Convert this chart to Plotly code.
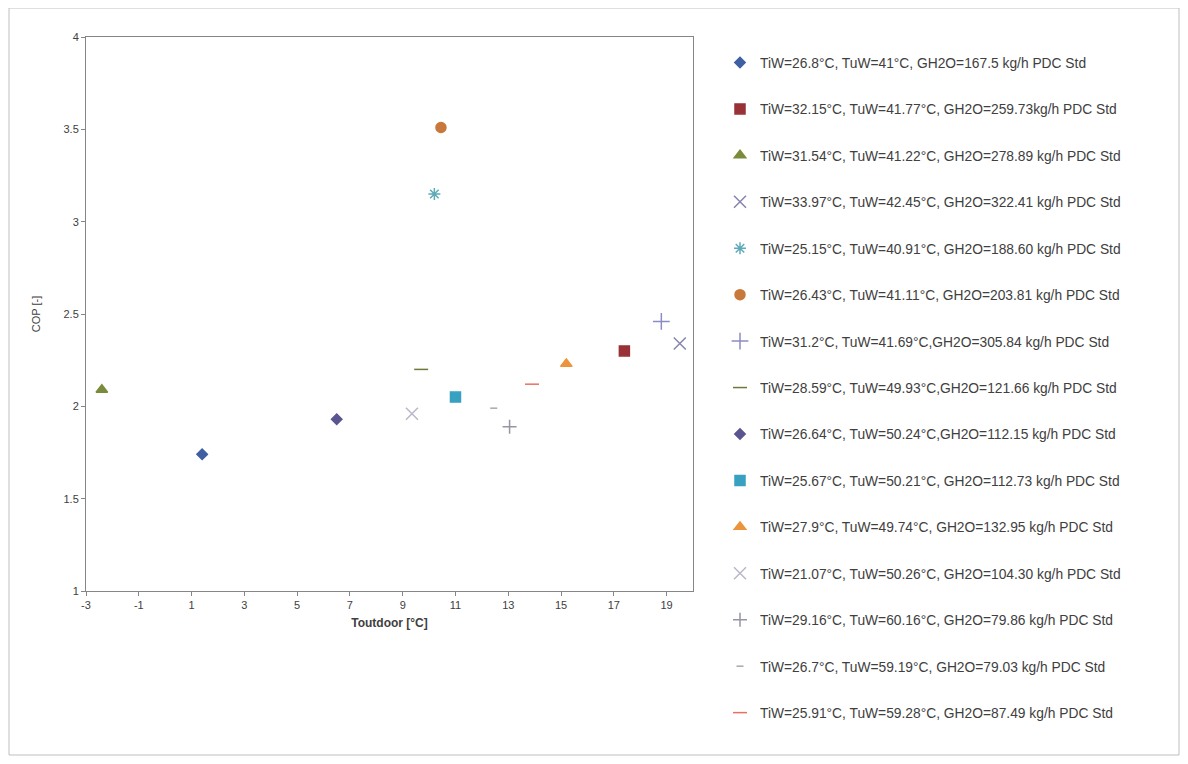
import plotly.graph_objects as go

names = [
    "TiW=26.8°C, TuW=41°C, GH2O=167.5 kg/h PDC Std",
    "TiW=32.15°C, TuW=41.77°C, GH2O=259.73kg/h PDC Std",
    "TiW=31.54°C, TuW=41.22°C, GH2O=278.89 kg/h PDC Std",
    "TiW=33.97°C, TuW=42.45°C, GH2O=322.41 kg/h PDC Std",
    "TiW=25.15°C, TuW=40.91°C, GH2O=188.60 kg/h PDC Std",
    "TiW=26.43°C, TuW=41.11°C, GH2O=203.81 kg/h PDC Std",
    "TiW=31.2°C, TuW=41.69°C,GH2O=305.84 kg/h PDC Std",
    "TiW=28.59°C, TuW=49.93°C,GH2O=121.66 kg/h PDC Std",
    "TiW=26.64°C, TuW=50.24°C,GH2O=112.15 kg/h PDC Std",
    "TiW=25.67°C, TuW=50.21°C, GH2O=112.73 kg/h PDC Std",
    "TiW=27.9°C, TuW=49.74°C, GH2O=132.95 kg/h PDC Std",
    "TiW=21.07°C, TuW=50.26°C, GH2O=104.30 kg/h PDC Std",
    "TiW=29.16°C, TuW=60.16°C, GH2O=79.86 kg/h PDC Std",
    "TiW=26.7°C, TuW=59.19°C, GH2O=79.03 kg/h PDC Std",
    "TiW=25.91°C, TuW=59.28°C, GH2O=87.49 kg/h PDC Std",
]
t_outdoor = [1.4, 17.4, -2.4, 19.5, 10.2, 10.45, 18.8, 9.7, 6.5, 11.0, 15.2, 9.35, 13.05, 12.45, 13.9]
cop = [1.74, 2.30, 2.09, 2.34, 3.15, 3.51, 2.46, 2.20, 1.93, 2.05, 2.23, 1.96, 1.89, 1.99, 2.12]

symbols = ["diamond", "square", "triangle-up", "x-thin-open", "asterisk-open", "circle",
           "cross-thin-open", "line-ew-open", "diamond", "square", "triangle-up",
           "x-thin-open", "cross-thin-open", "line-ew-open", "line-ew-open"]
colors = ["#3F5FA3", "#983236", "#7A8C3A", "#8585AD", "#5FAAB8", "#C8783A",
          "#8C8CC4", "#6E7A3A", "#5A5590", "#38A0C0", "#EC943C",
          "#B8B8CA", "#9595A5", "#A8A8A8", "#E8705E"]
sizes = [8, 10, 10, 12, 10, 10, 12, 10, 8, 10, 10, 12, 10, 5, 10]

fig = go.Figure()
for i in range(len(names)):
    fig.add_trace(go.Scatter(
        x=[t_outdoor[i]], y=[cop[i]], mode="markers", name=names[i],
        legendgroup="g%d" % i,
        marker=dict(symbol=symbols[i], color=colors[i], size=sizes[i],
                    line=dict(color=colors[i], width=1.5)),
    ))

OFF = 8  # page body margin
L, R, T, B = 86 - OFF, 693 - OFF, 37 - OFF, 591 - OFF
W, H = 1188 - 2 * OFF, 764 - 2 * OFF
pw, ph = R - L, B - T

def px(x):
    return (x - OFF - L) / pw

def py(y):
    return (B - (y - OFF)) / ph

fig.add_shape(type="rect", xref="paper", yref="paper",
              x0=px(9), x1=px(1179), y0=py(755), y1=py(8),
              line=dict(color="#BFBFBF", width=1), fillcolor="rgba(0,0,0,0)", layer="below")

fig.update_layout(
    width=W, height=H,
    margin=dict(l=L, r=W - R, t=T, b=H - B),
    paper_bgcolor="white", plot_bgcolor="white",
    font=dict(family="Liberation Sans, Arial, sans-serif", size=11, color="#404040"),
    showlegend=True,
    legend=dict(x=px(720), y=py(47), xanchor="left", yanchor="top",
                font=dict(size=13.8, color="#404040"), tracegroupgap=25.5,
                itemwidth=30, maxheight=740,
                itemsizing="trace", bgcolor="rgba(0,0,0,0)"),
    xaxis=dict(range=[-3, 20], tickmode="array",
               tickvals=[-3, -1, 1, 3, 5, 7, 9, 11, 13, 15, 17, 19],
               ticktext=["-3", "-1", "1", "3", "5", "7", "9", "11", "13", "15", "17", "19"],
               showgrid=False, zeroline=False, showline=True, linecolor="#868686",
               linewidth=1, mirror=True, ticks="outside", ticklen=4, tickcolor="#868686",
               tickfont=dict(size=11, color="#404040"),
               title=dict(text="<b>Toutdoor [°C]</b>", font=dict(size=12, color="#404040"), standoff=8)),
    yaxis=dict(range=[1, 4], tickmode="array",
               tickvals=[1, 1.5, 2, 2.5, 3, 3.5, 4],
               ticktext=["1", "1.5", "2", "2.5", "3", "3.5", "4"],
               showgrid=False, zeroline=False, showline=True, linecolor="#868686",
               linewidth=1, mirror=True, ticks="outside", ticklen=4, tickcolor="#868686",
               tickfont=dict(size=11, color="#404040"),
               title=dict(text="COP [-]", font=dict(size=11, color="#404040"), standoff=20)),
)

fig.write_html("out.html")
